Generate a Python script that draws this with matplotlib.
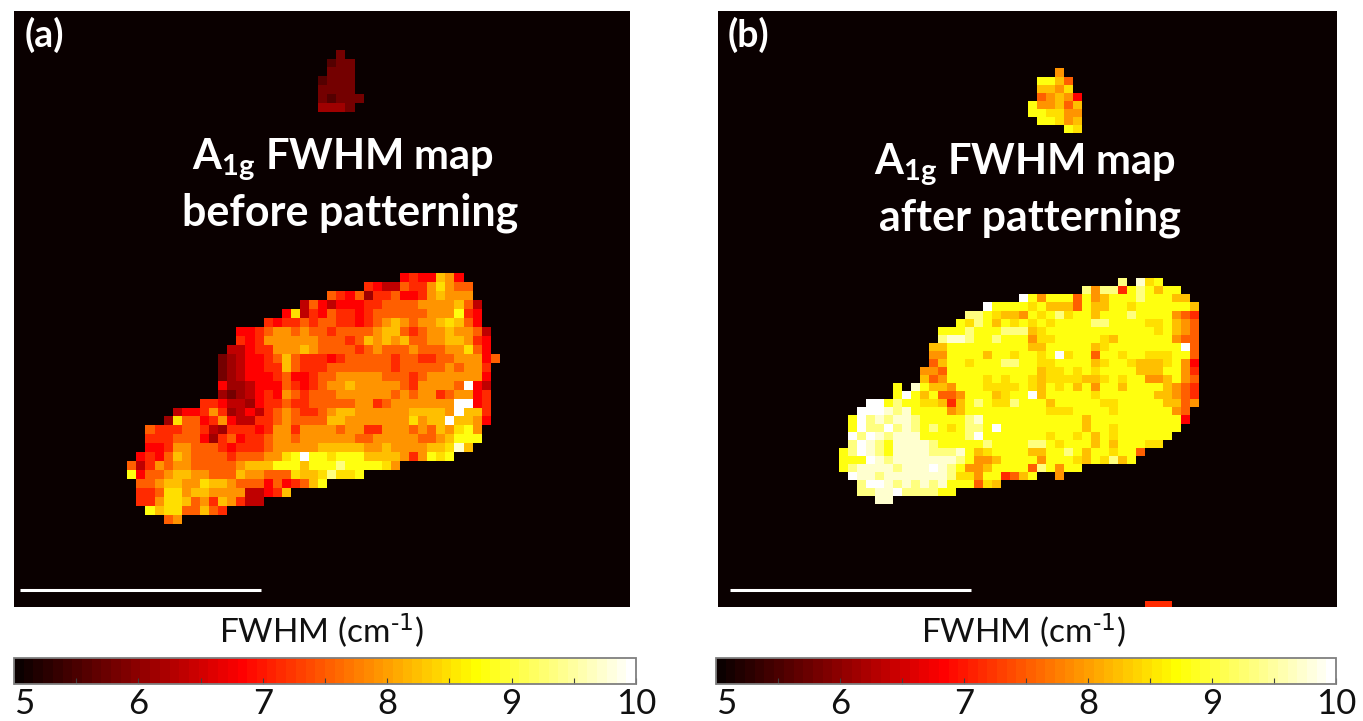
import numpy as np
import matplotlib
matplotlib.use("Agg")
import matplotlib.pyplot as plt
from matplotlib.ticker import MultipleLocator

plt.rcParams.update({"font.family": "Lato", "mathtext.default": "regular"})

# FWHM value of each character used in the map rows below
level_values = {"0": 5.6, "1": 5.85, "2": 6.1, "3": 6.4, "4": 6.8, "5": 7.15, "6": 7.55,
                "7": 7.9, "8": 8.25, "9": 8.5, "a": 8.75, "b": 9.3, "c": 9.75, "d": 10.0}
background_value = 5.0

# panel (a), main flake: first column and values of each row
a_main_starts = [30, 26, 22, 19, 17, 15, 12, 12, 11, 10, 10, 10, 10, 10, 8, 5, 4, 2, 2, 2, 1, 0, 0, 1, 1, 1, 2, 4]
a_main_rows = [
    "4544874",
    "543365579766",
    "6546255644578777",
    "36434445566667777863",
    "4935465545666666777a54",
    "545565665545678767789864",
    "4456776766566667886567787763",
    "5457777776665687878667788754",
    "33455777876666567666766677964",
    "1234456865554566666566556677746",
    "123445586555666666656666676775",
    "123444564456677777666567777774",
    "422344465456778777776577776d43",
    "212345476566677777767677567745",
    "5543324556556666677567777777dd45",
    "3445752343567655678877777788887d885",
    "296645743355676666887777777978" + "8d8874",
    "655566532555457757777677557776" + "76879a7",
    "555666425645567767777776677777" + "6678aaa",
    "445776665455567777788888778777" + "7889c8",
    "45468766665666779adaa9aaa88887" + "57a9a",
    "6357677666667888aaa8aaabaaaa97",
    "a4667887766687766698" + "89b99a",
    "66788779887666464568a",
    "55699788777733458",
    "55799867587533",
    "a89966865",
    "67",
]

# panel (a), small flake above the text
a_small_starts = [2, 1, 1, 0, 0, 0, 0]
a_small_rows = ["1", "011", "111", "0111", "1111", "10111", "2221"]

# panel (b), main flake
b_main_starts = [31, 27, 20, 16, 14, 13, 11, 11, 10, 10, 10, 9, 9, 6, 6, 3, 2, 1, 1, 1, 1, 0, 0, 0, 1, 2, 2, 4]
b_main_rows = [
    "b c9a",
    "b7bb5aba8aa",
    "da7aaa6a78aaabaaa88",
    "daaaa9a8886a88aa9aaaaaa8",
    "bba9887a9ab9aa8aaabaaaa765",
    "a9ba8a9a9a9aaaabbaaaa99a876",
    "aaabaaabbb89aaaaaaaaaaaa9a876",
    "bccbaabaaa799aaaaa98aaaaaa766",
    "88aaaaaaaaa88aaaaa89aaaaaaaad6",
    "77aaaa8aa9aa9ad9aa6aa9aa999aa6",
    "68aa9aaabbaa99aaaa89aa98889a74",
    "776aaaaaaaaaa899a9a9aaaa888aa75",
    "867aaaa9a9aa989999889a9aa778a76",
    "a ca887aaa9999a98a9a8a7aa8aaaa8765",
    "ada8a667aaa89aad8aaaaa9aaaaaa88765",
    "ddabaa99858aba99baaa8aaaaa99aaaaa8867",
    "dddcbcaaaa78aaaaaaaaa999aaaa9aaaaaa76",
    "adbcbccbaaaaabcaaaaaaaaaaa8aaaaaaaaaa4",
    "adbbdbcbaba9abbadaaaaaaaaa8aa9aaaaaaa",
    "dbdcbcccaaaaabdaaaaaaa9aa9a8a9aaaaaa",
    "bdcbaccccbaaaaabaaaabba9aaa8a8aaa99",
    "abdcbaccccbbbca89aaaa88aaba8aa9aa6",
    "aaadcbcccccccba778aaaa7aaa98a9b8a",
    "abccccbcccdcba778aaaa6ba7aa",
    "dccbcccccccb997aa568a  7",
    "bddcbcbcbcaaa698",
    "bbccdbbbbaa",
    "cc",
]

# panel (b), small flake above the text
b_small_starts = [3, 1, 1, 1, 0, 0, 1, 4]
b_small_rows = ["7", "aa86", "8879", "67874", "a77868", "aa9977", "aa978", "a9"]

# panel (b), flake cut by the lower edge
b_edge_starts = [34]
b_edge_rows = ["555"]

colorbar_ticks = [5, 6, 7, 8, 9, 10]
vmin = 5
vmax = 10


def paint(grid, starts, rows, row0, col0):
    for i, row in enumerate(rows):
        for j, ch in enumerate(row):
            if ch != " ":
                grid[row0 + i, col0 + starts[i] + j] = level_values[ch]


W = 1363
H = 721


def px_axes(x0, y0, x1, y1):
    return fig.add_axes([x0 / W, 1 - y1 / H, (x1 - x0) / W, (y1 - y0) / H])


def px_text(x, y, s, **kw):
    fig.text(x / W, 1 - y / H, s, ha="center", va="center", **kw)


fig = plt.figure(figsize=(W / 100, H / 100), dpi=100)
cmap = plt.get_cmap("hot", 64)

grid_a = np.full((100, 90), background_value)
paint(grid_a, a_main_starts, a_main_rows, 30, 13)
paint(grid_a, a_small_starts, a_small_rows, 5, 34)

grid_b = np.full((100, 90), background_value)
paint(grid_b, b_main_starts, b_main_rows, 35, 14)
paint(grid_b, b_small_starts, b_small_rows, 9, 35)
paint(grid_b, b_edge_starts, b_edge_rows, 75, 14)

ax_a = px_axes(14, 11, 630, 607)
im_a = ax_a.imshow(grid_a, cmap=cmap, vmin=vmin, vmax=vmax, aspect="auto",
                   interpolation="nearest", extent=(0, 90, 100, 0))
ax_a.set_xlim(0.54, 0.54 + 67.77)
ax_a.set_ylim(0.69 + 66.6, 0.69)

ax_b = px_axes(718, 11, 1336, 607)
im_b = ax_b.imshow(grid_b, cmap=cmap, vmin=vmin, vmax=vmax, aspect="auto",
                   interpolation="nearest", extent=(0, 90, 100, 0))
ax_b.set_xlim(0.63, 0.63 + 68.67)
ax_b.set_ylim(1.88 + 73.85, 1.88)

# scale bars
for ax, left, right in [(ax_a, 0.0097, 0.401), (ax_b, 0.0194, 0.409)]:
    ax.axis("off")
    ax.plot([left, right], [0.0285, 0.0285], color="white", lw=2.2,
            transform=ax.transAxes, solid_capstyle="butt")

# colorbars
for im, box in [(im_a, (14, 658, 636, 684)), (im_b, (716, 658, 1336, 684))]:
    cax = px_axes(*box)
    cb = fig.colorbar(im, cax=cax, orientation="horizontal", ticks=colorbar_ticks)
    cb.outline.set_edgecolor("#7f7f7f")
    cb.outline.set_linewidth(1.3)
    cax.xaxis.set_minor_locator(MultipleLocator(0.5))
    cax.tick_params(which="both", direction="in", color="#404040", length=4, width=0.8)
    cax.tick_params(which="major", labelsize=25, pad=3, labelcolor="#111111")
    cax.get_xticklabels()[0].set_ha("left")

# white labels on the maps
title_style = dict(color="white", fontsize=31, fontweight="bold")
line_style = dict(color="white", fontsize=30, fontweight="bold")
px_text(343, 160, r"A$_{\mathregular{1g}}$ FWHM map", **line_style)
px_text(350, 213, "before patterning", **title_style)
px_text(1025, 165, r"A$_{\mathregular{1g}}$ FWHM map", **line_style)
px_text(1030, 218, "after patterning", **title_style)
px_text(44, 35, "(a)", color="white", fontsize=27, fontweight="bold")
px_text(748, 35, "(b)", color="white", fontsize=27, fontweight="bold")

px_text(321, 631, r"FWHM (cm$^{\text{-1}}$)", color="#111111", fontsize=24)
px_text(1023, 631, r"FWHM (cm$^{\text{-1}}$)", color="#111111", fontsize=24)

fig.savefig("out.png", dpi=100)
